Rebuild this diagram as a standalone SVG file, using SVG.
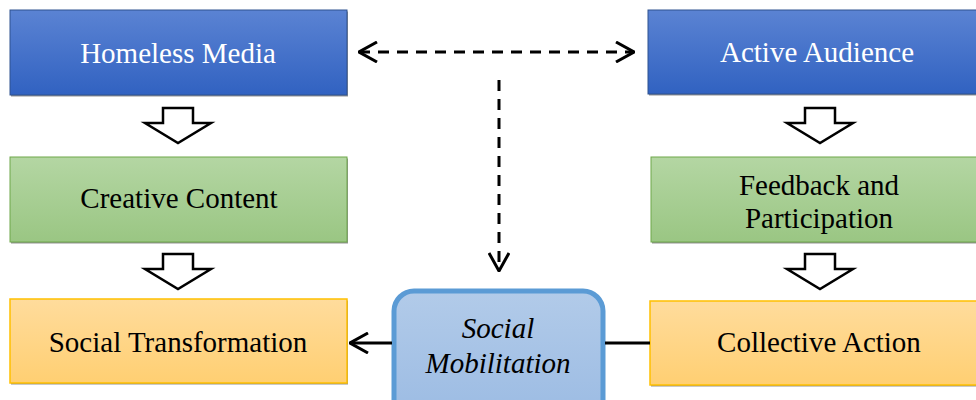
<svg xmlns="http://www.w3.org/2000/svg" width="976" height="400" viewBox="0 0 976 400">
<defs>
<linearGradient id="gBlue" x1="0" y1="0" x2="0" y2="1"><stop offset="0" stop-color="#5b83d3"/><stop offset="1" stop-color="#3162c1"/></linearGradient>
<linearGradient id="gGreen" x1="0" y1="0" x2="0" y2="1"><stop offset="0" stop-color="#b4d6a3"/><stop offset="1" stop-color="#9ac683"/></linearGradient>
<linearGradient id="gOrange" x1="0" y1="0" x2="0" y2="1"><stop offset="0" stop-color="#ffdc9c"/><stop offset="1" stop-color="#ffcf72"/></linearGradient>
<linearGradient id="gLight" x1="0" y1="0" x2="0" y2="1"><stop offset="0" stop-color="#b2cbe9"/><stop offset="1" stop-color="#9bbbe3"/></linearGradient>
<marker id="chev" viewBox="0 0 20 22" refX="19" refY="11" markerWidth="20" markerHeight="22" markerUnits="userSpaceOnUse" orient="auto-start-reverse">
<path d="M1,1 L19,11 L1,21" fill="none" stroke="#000" stroke-width="3"/>
</marker>
</defs>
<style>
.shadow{fill:#3a3a3a;opacity:0.55}
.blue{fill:url(#gBlue);stroke:#2f528f;stroke-width:1}
.green{fill:url(#gGreen);stroke:#6ea84a;stroke-width:1}
.orange{fill:url(#gOrange);stroke:#ffc000;stroke-width:1.5}
.mob{fill:url(#gLight);stroke:#5b9bd5;stroke-width:5}
text{font-family:'Liberation Serif','DejaVu Serif',serif;font-size:29px;text-anchor:middle}
.w{fill:#fff}
.k{fill:#000}
.it{font-style:italic}
.blk{fill:#fff;stroke:#000;stroke-width:2.5;stroke-linejoin:miter}
.dash{fill:none;stroke:#000;stroke-width:3;stroke-dasharray:11 8}
.solid{fill:none;stroke:#000;stroke-width:3}
</style>
<g id="homeless-media">
<rect x="11" y="11.5" width="337" height="85" class="shadow"/>
<rect x="10" y="10" width="337" height="85" class="blue"/>
<text x="178" y="63" class="w" font-family="Liberation Serif, serif">Homeless Media</text>
</g>
<g id="active-audience">
<rect x="649" y="11.5" width="340" height="84" class="shadow"/>
<rect x="648" y="10" width="340" height="84" class="blue"/>
<text x="817" y="62" class="w">Active Audience</text>
</g>
<g id="creative-content">
<rect x="11" y="158.5" width="337" height="85" class="shadow"/>
<rect x="10" y="157" width="337" height="85" class="green"/>
<text x="179" y="208" class="k">Creative Content</text>
</g>
<g id="feedback-participation">
<rect x="652" y="158.5" width="340" height="85" class="shadow"/>
<rect x="651" y="157" width="340" height="85" class="green"/>
<text x="819" y="195" class="k">Feedback and</text>
<text x="819" y="228" class="k">Participation</text>
</g>
<g id="social-transformation">
<rect x="11" y="300.5" width="337" height="84" class="shadow"/>
<rect x="10" y="299" width="337" height="84" class="orange"/>
<text x="178" y="352" class="k">Social Transformation</text>
</g>
<g id="collective-action">
<rect x="651" y="302.5" width="340" height="84" class="shadow"/>
<rect x="650" y="301" width="340" height="84" class="orange"/>
<text x="819" y="352" class="k">Collective Action</text>
</g>
<g id="social-mobilitation">
<rect x="394" y="291" width="209" height="130" rx="20" ry="20" class="mob"/>
<text x="498" y="338" class="k it">Social</text>
<text x="498" y="373" class="k it">Mobilitation</text>
</g>
<g id="connectors">
<path class="blk" d="M163,108 H193 V123 H211 L178,143 L145,123 H163 Z"/>
<path class="blk" d="M163,254 H193 V269 H211 L178,289 L145,269 H163 Z"/>
<path class="blk" d="M805,108 H835 V123 H853 L820,143 L787,123 H805 Z"/>
<path class="blk" d="M805,254 H835 V269 H853 L820,289 L787,269 H805 Z"/>
<line class="dash" x1="359" y1="52" x2="634" y2="52" marker-start="url(#chev)" marker-end="url(#chev)"/>
<line class="dash" x1="499" y1="80" x2="499" y2="271" marker-end="url(#chev)"/>
<line class="solid" x1="392" y1="343" x2="350" y2="343" marker-end="url(#chev)"/>
<line class="solid" x1="605" y1="343" x2="650" y2="343"/>
</g>
</svg>
